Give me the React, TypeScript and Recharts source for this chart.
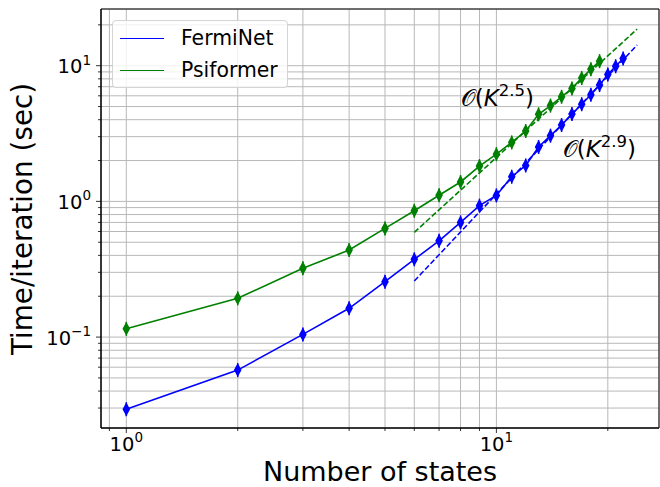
import { ComposedChart, Line, XAxis, YAxis, CartesianGrid, ReferenceArea } from "recharts";

// number of states vs seconds per iteration
const fermiStates = [1, 2, 3, 4, 5, 6, 7, 8, 9, 10, 11, 12, 13, 14, 15, 16, 17, 18, 19, 20, 21, 22];
const fermiNetTime = [
  0.0294, 0.0571, 0.1047, 0.163, 0.256, 0.374, 0.512, 0.7, 0.93, 1.107, 1.52,
  1.84, 2.52, 3.05, 3.65, 4.4, 5.2, 6.1, 7.2, 8.6, 9.9, 11.3,
];
const psiStates = [1, 2, 3, 4, 5, 6, 7, 8, 9, 10, 11, 12, 13, 14, 15, 16, 17, 18, 19];
const psiformerTime = [
  0.115, 0.193, 0.321, 0.438, 0.632, 0.853, 1.11, 1.39, 1.82, 2.23, 2.72, 3.3,
  4.38, 5.08, 5.9, 6.8, 8.1, 9.4, 10.8,
];

// power-law fits, O(K^2.9) and O(K^2.5)
const fitStates = [6, 24];
const fermiFit = [0.259, 14.2];
const psiFit = [0.591, 18.6];

const xTicks = [0.9, 1, 2, 3, 4, 5, 6, 7, 8, 9, 10, 20];
const yTicks = [
  0.03, 0.04, 0.05, 0.06, 0.07, 0.08, 0.09, 0.1, 0.2, 0.3, 0.4, 0.5, 0.6, 0.7,
  0.8, 0.9, 1, 2, 3, 4, 5, 6, 7, 8, 9, 10, 20,
];
const majors = [0.1, 1, 10];

const X_MIN = 0.8543;
const X_MAX = 27.5;
const Y_MIN = 0.02138;
const Y_MAX = 26.17;

const PLOT_LEFT = 101;
const PLOT_BOTTOM = 428;
const FONT = "DejaVu Sans";

const BLUE = "#0000ff";
const GREEN = "#008000";

const toRows = (xs: number[], ys: number[]) => xs.map((k, i) => ({ k, v: ys[i] }));

const isMajor = (v: number) => majors.includes(v);

const Sup = ({ exp }: { exp: number }) => (
  <>
    <tspan>10</tspan>
    <tspan dy={-8.7} fontSize={13.5}>
      {exp < 0 ? "\u2212" + Math.abs(exp) : String(exp)}
    </tspan>
  </>
);

const XTick = (props: any) => {
  const { x, payload } = props;
  const v = payload.value;
  const major = isMajor(v);
  return (
    <g>
      <line x1={x} x2={x} y1={PLOT_BOTTOM} y2={PLOT_BOTTOM + (major ? 5 : 3)} stroke="#000" strokeWidth={0.8} />
      {major && (
        <text x={x} y={450.5} textAnchor="middle" fontSize={19.5} fontFamily={FONT} fill="#000">
          <Sup exp={Math.round(Math.log10(v))} />
        </text>
      )}
    </g>
  );
};

const YTick = (props: any) => {
  const { y, payload } = props;
  const v = payload.value;
  const major = isMajor(v);
  return (
    <g>
      <line x1={PLOT_LEFT - (major ? 5 : 3)} x2={PLOT_LEFT} y1={y} y2={y} stroke="#000" strokeWidth={0.8} />
      {major && (
        <text x={91} y={y + 7.6} textAnchor="end" fontSize={19.5} fontFamily={FONT} fill="#000">
          <Sup exp={Math.round(Math.log10(v))} />
        </text>
      )}
    </g>
  );
};

const marker = (color: string) => (props: any) => {
  const { cx, cy, index } = props;
  if (cx == null || cy == null) return <g key={index} />;
  return (
    <g key={index}>
      <line x1={cx} x2={cx} y1={cy - 7} y2={cy + 7} stroke={color} strokeWidth={1.5} />
      <path d={`M${cx} ${cy - 7}L${cx + 3.8} ${cy}L${cx} ${cy + 7}L${cx - 3.8} ${cy}Z`} fill={color} />
    </g>
  );
};

const series = [
  { name: "FermiNet", color: BLUE },
  { name: "Psiformer", color: GREEN },
];

export default function App() {
  return (
    <div style={{ position: "absolute", left: 0, top: 0, width: 660, height: 487, background: "#fff", fontFamily: FONT }}>
      <ComposedChart width={660} height={487} margin={{ top: 9, right: 1, bottom: 0, left: 0 }}>
        <CartesianGrid stroke="#b8b8b8" strokeWidth={1} />
        <XAxis
          dataKey="k"
          type="number"
          scale="log"
          domain={[X_MIN, X_MAX]}
          allowDataOverflow
          ticks={xTicks}
          interval={0}
          tick={<XTick />}
          tickLine={false}
          axisLine={{ stroke: "#000" }}
          height={59}
        />
        <YAxis
          type="number"
          scale="log"
          domain={[Y_MIN, Y_MAX]}
          allowDataOverflow
          ticks={yTicks}
          interval={0}
          tick={<YTick />}
          tickLine={false}
          axisLine={{ stroke: "#000" }}
          width={101}
        />
        <Line
          data={toRows(fermiStates, fermiNetTime)}
          dataKey="v"
          type="linear"
          stroke={BLUE}
          strokeWidth={1.6}
          dot={marker(BLUE)}
          isAnimationActive={false}
        />
        <Line
          data={toRows(psiStates, psiformerTime)}
          dataKey="v"
          type="linear"
          stroke={GREEN}
          strokeWidth={1.6}
          dot={marker(GREEN)}
          isAnimationActive={false}
        />
        <Line
          data={toRows(fitStates, fermiFit)}
          dataKey="v"
          type="linear"
          stroke={BLUE}
          strokeWidth={1.6}
          strokeDasharray="5.5 2.4"
          dot={false}
          isAnimationActive={false}
        />
        <Line
          data={toRows(fitStates, psiFit)}
          dataKey="v"
          type="linear"
          stroke={GREEN}
          strokeWidth={1.6}
          strokeDasharray="5.5 2.4"
          dot={false}
          isAnimationActive={false}
        />
        <ReferenceArea x1={X_MIN} x2={X_MAX} y1={Y_MIN} y2={Y_MAX} fill="none" stroke="#000" strokeWidth={1} ifOverflow="visible" />
      </ComposedChart>

      <svg width={660} height={487} style={{ position: "absolute", left: 0, top: 0, pointerEvents: "none" }}>
        <text x={380} y={480.5} textAnchor="middle" fontSize={27} fontFamily={FONT} fill="#000">
          Number of states
        </text>
        <text transform="translate(32,219) rotate(-90)" textAnchor="middle" fontSize={27.8} fontFamily={FONT} fill="#000">
          Time/iteration (sec)
        </text>
        <text x={460.7} y={105.5} fontSize={23} fontFamily={FONT} fill="#000">
          <tspan>𝒪(</tspan>
          <tspan fontStyle="italic">K</tspan>
          <tspan dy={-10} fontSize={16.5}>2.5</tspan>
          <tspan dy={10}>)</tspan>
        </text>
        <text x={562.7} y={157.3} fontSize={23} fontFamily={FONT} fill="#000">
          <tspan>𝒪(</tspan>
          <tspan fontStyle="italic">K</tspan>
          <tspan dy={-10} fontSize={16.5}>2.9</tspan>
          <tspan dy={10}>)</tspan>
        </text>
      </svg>

      <div
        style={{
          position: "absolute",
          left: 112,
          top: 20,
          width: 174,
          height: 66,
          border: "1px solid #d4d4d4",
          borderRadius: 4,
          background: "rgba(255,255,255,0.8)",
          boxSizing: "content-box",
        }}
      >
        {series.map((s, i) => (
          <div key={s.name} style={{ position: "absolute", left: 0, top: 5 + i * 32, height: 24, display: "flex", alignItems: "center" }}>
            <div style={{ width: 44, height: 0, borderTop: `1.5px solid ${s.color}`, marginLeft: 7 }} />
            <span style={{ marginLeft: 17, fontSize: 20.4, color: "#000", lineHeight: "24px" }}>{s.name}</span>
          </div>
        ))}
      </div>
    </div>
  );
}
